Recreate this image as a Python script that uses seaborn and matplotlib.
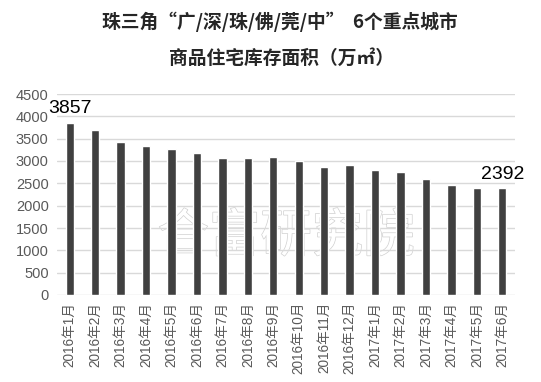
import matplotlib
matplotlib.use("Agg")
import matplotlib.pyplot as plt
import matplotlib.patheffects as pe
import seaborn as sns
import pandas as pd

months = ["2016年1月", "2016年2月", "2016年3月", "2016年4月", "2016年5月", "2016年6月",
          "2016年7月", "2016年8月", "2016年9月", "2016年10月", "2016年11月", "2016年12月",
          "2017年1月", "2017年2月", "2017年3月", "2017年4月", "2017年5月", "2017年6月"]
stock = [3857, 3701, 3425, 3343, 3269, 3179, 3075, 3060, 3082, 3000, 2866, 2903,
         2806, 2754, 2605, 2463, 2405, 2392]
y_ticks = [0, 500, 1000, 1500, 2000, 2500, 3000, 3500, 4000, 4500]

df = pd.DataFrame({"月份": months, "库存": stock})

sns.set_style("white")
plt.rcParams["font.family"] = ["Liberation Sans", "Noto Sans CJK SC", "DejaVu Sans"]

fig = plt.figure(figsize=(5.41, 3.82), dpi=100)
ax = fig.add_axes([57 / 541, 1 - 295 / 382, (515 - 57) / 541, (295 - 94) / 382])

# watermark behind bars
ax.text(0.5, 0.29, "合富研究院", transform=ax.transAxes, ha="center", va="center",
        fontsize=37, color="white", family=["Noto Sans CJK SC"], zorder=0.5,
        path_effects=[pe.withStroke(linewidth=1.0, foreground="#d0d0d0")])

sns.barplot(data=df, x="月份", y="库存", color="#404040", width=0.33,
            saturation=1, ax=ax, zorder=2)

ax.set_ylim(0, 4500)
ax.set_yticks(y_ticks)
ax.yaxis.grid(True, color="#d9d9d9", linewidth=1)
ax.set_axisbelow(True)
for s in ["top", "right", "left", "bottom"]:
    ax.spines[s].set_visible(False)
ax.set_xlabel("")
ax.set_ylabel("")
ax.tick_params(axis="y", labelsize=10.5, labelcolor="#595959", length=0, pad=6)
ax.tick_params(axis="x", labelsize=9.8, labelcolor="#595959", length=0, pad=5)
plt.setp(ax.get_xticklabels(), rotation=90)

for i in (0, len(stock) - 1):
    ax.annotate(str(stock[i]), (i, stock[i]), xytext=(0, 4), textcoords="offset points",
                ha="center", va="bottom", fontsize=14, color="black")

fig.text(0.518, 1 - 22 / 382, "珠三角“广/深/珠/佛/莞/中”  6个重点城市",
         ha="center", va="center", fontsize=13.5, fontweight="bold",
         family=["Noto Sans CJK SC"])
fig.text(0.52, 1 - 58 / 382, "商品住宅库存面积（万㎡）",
         ha="center", va="center", fontsize=13.5, fontweight="bold",
         family=["Noto Sans CJK SC"])

fig.savefig("out.png", dpi=100, facecolor="white")
